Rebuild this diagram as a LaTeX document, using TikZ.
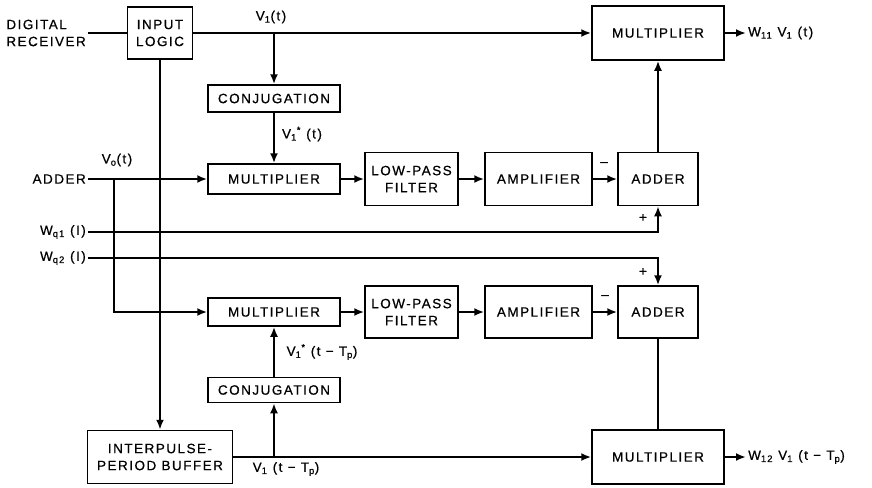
\documentclass[tikz,border=0pt]{standalone}
\usepackage{fontspec}
\setmainfont{Liberation Sans}[LetterSpace=11,FakeBold=0.6]
\usetikzlibrary{arrows.meta}
\newcommand{\Vone}{V\textsubscript{1}}
\newcommand{\Vconj}{V\textsubscript{1}\textsuperscript{*}}

\begin{document}
\begin{tikzpicture}[x=1pt,y=-1pt,
  every node/.style={font=\fontsize{13.5}{17}\selectfont},
  blk/.style={draw,line width=1.5pt,inner sep=0pt,align=center},
  sig/.style={line width=2.6pt},
  arr/.style={sig,-{Latex[length=10pt,width=8pt]}}]
\useasboundingbox (0,0) rectangle (872,487);
% blocks
\node[blk,minimum width=65,minimum height=52] (logic) at (160,33) {INPUT\\LOGIC};
\node[blk,minimum width=132,minimum height=54] (mulA) at (658,33) {MULTIPLIER};
\node[blk,minimum width=132,minimum height=27] (conjA) at (274,98.5) {CONJUGATION};
\node[blk,minimum width=132,minimum height=30] (mul1) at (274,179) {MULTIPLIER};
\node[blk,minimum width=93,minimum height=53] (lpf1) at (411.5,179) {LOW-PASS\\FILTER};
\node[blk,minimum width=107,minimum height=53] (amp1) at (538.5,179) {AMPLIFIER};
\node[blk,minimum width=80,minimum height=53] (add1) at (658,179) {ADDER};
\node[blk,minimum width=132,minimum height=28] (mul2) at (274,312) {MULTIPLIER};
\node[blk,minimum width=93,minimum height=52] (lpf2) at (411.5,312) {LOW-PASS\\FILTER};
\node[blk,minimum width=107,minimum height=52] (amp2) at (538.5,312) {AMPLIFIER};
\node[blk,minimum width=80,minimum height=52] (add2) at (658,312) {ADDER};
\node[blk,minimum width=132,minimum height=25] (conjB) at (274,390) {CONJUGATION};
\node[blk,minimum width=145,minimum height=53] (buf) at (160,457) {INTERPULSE-\\PERIOD BUFFER};
\node[blk,minimum width=132,minimum height=54] (mulB) at (658,457) {MULTIPLIER};
% inputs and outputs
\node[anchor=east,align=left,inner sep=2pt] (rx) at (88,33) {DIGITAL\\RECEIVER};
\node[anchor=east,inner sep=2pt] (adin) at (88,179) {ADDER};
\node[anchor=east,inner sep=2pt] (wq1) at (88,232) {W\textsubscript{q1} (I)};
\node[anchor=east,inner sep=2pt] (wq2) at (88,258) {W\textsubscript{q2} (I)};
\node[anchor=west,inner sep=2pt] (outA) at (746,33) {W\textsubscript{11} \Vone\ (t)};
\node[anchor=west,inner sep=2pt] (outB) at (746,457) {W\textsubscript{12} \Vone\ (t − T\textsubscript{p})};
% signal labels
\node (v1) at (271,17) {\Vone(t)};
\node (v0) at (117,160) {V\textsubscript{o}(t)};
\node (vc1) at (302,134) {\Vconj\ (t)};
\node (vc2) at (322,352) {\Vconj\ (t − T\textsubscript{p})};
\node (vd) at (286,469) {\Vone\ (t − T\textsubscript{p})};
\node (m1) at (604,164) {–};
\node (m2) at (605,297) {–};
\node (p1) at (643,218) {+};
\node (p2) at (643,272) {+};
% junctions
\coordinate (j1) at (274,33);
\coordinate (j0) at (114,179);
\coordinate (j2) at (274,457);
% connections
\draw[sig] (rx.east) -- (logic.west);
\draw[arr] (logic.east) -- (mulA.west);
\draw[arr] (j1) -- (conjA.north);
\draw[arr] (conjA.south) -- (mul1.north);
\draw[arr] (adin.east) -- (mul1.west);
\draw[arr] (j0) |- (mul2.west);
\draw[arr] (mul1.east) -- (lpf1.west);
\draw[arr] (lpf1.east) -- (amp1.west);
\draw[arr] (amp1.east) -- (add1.west);
\draw[arr] (add1.north) -- (mulA.south);
\draw[arr] (mulA.east) -- (outA.west);
\draw[arr] (wq1.east) -| (add1.south);
\draw[arr] (wq2.east) -| (add2.north);
\draw[arr] (mul2.east) -- (lpf2.west);
\draw[arr] (lpf2.east) -- (amp2.west);
\draw[arr] (amp2.east) -- (add2.west);
\draw[arr] (logic.south) -- (buf.north);
\draw[arr] (buf.east) -- (mulB.west);
\draw[arr] (j2) -- (conjB.south);
\draw[arr] (conjB.north) -- (mul2.south);
\draw[line width=1.5pt] (add2.south) -- (mulB.north);
\draw[arr] (mulB.east) -- (outB.west);
\end{tikzpicture}
\end{document}
